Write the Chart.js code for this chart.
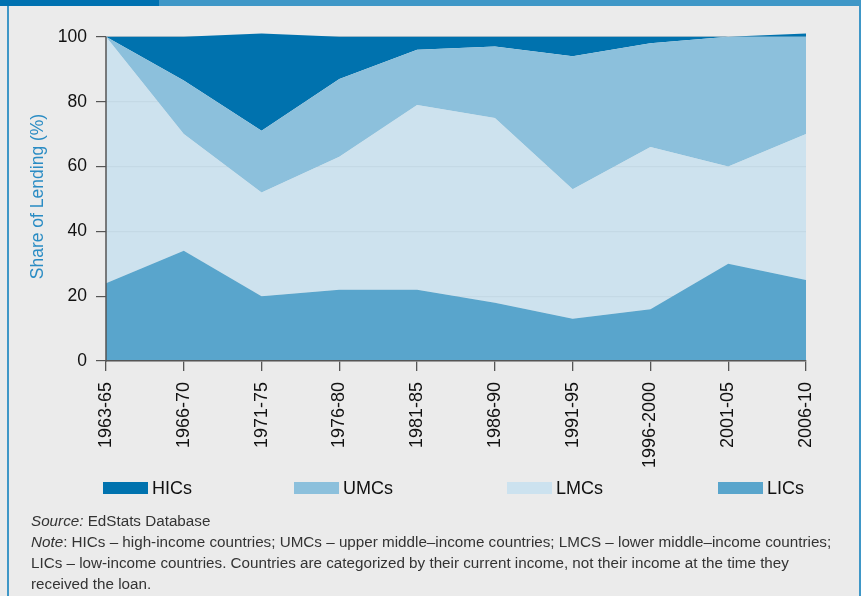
<!DOCTYPE html>
<html><head><meta charset="utf-8">
<script src="https://cdn.jsdelivr.net/npm/chart.js@4.4.1/dist/chart.umd.min.js"></script>
<style>
html,body{margin:0;padding:0;background:#ebebeb;}
body{width:861px;height:596px;position:relative;overflow:hidden;font-family:"Liberation Sans",Arial,Helvetica,sans-serif;}
#topbar{position:absolute;left:0;top:0;width:861px;height:6px;background:#3f97c7;}
#topbar .dark{position:absolute;left:0;top:0;width:159px;height:6px;background:#0071b0;}
#lb{position:absolute;left:7px;top:6px;width:2px;height:590px;background:#3f97c7;}
#rb{position:absolute;left:859px;top:6px;width:2px;height:590px;background:#3f97c7;}
#c{position:absolute;left:0;top:0;}
#legend{position:absolute;left:0;top:478px;width:861px;height:20px;font-size:18px;color:#111;}
.item{position:absolute;top:0;height:20px;display:flex;align-items:center;}
.sw{width:45px;height:12px;margin-right:4px;}
#note{position:absolute;left:31px;top:510px;font-size:14px;line-height:21px;color:#333;white-space:nowrap;}
</style></head>
<body>
<div id="topbar"><div class="dark"></div></div>
<div id="lb"></div><div id="rb"></div>
<canvas id="c" width="861" height="596"></canvas>
<div id="legend"></div>
<div id="note">
<div><i>Source:</i> EdStats Database</div>
<div><span id="l2"><i>Note</i>: HICs – high-income countries; UMCs – upper middle–income countries; LMCS – lower middle–income countries;</span></div>
<div>LICs – low-income countries. Countries are categorized by their current income, not their income at the time they</div>
<div>received the loan.</div>
</div>
<script>
// ---- data ----
const periods = ['1963-65','1966-70','1971-75','1976-80','1981-85','1986-90','1991-95','1996-2000','2001-05','2006-10'];
const licValues = [24, 34, 20, 22, 22, 18, 13, 16, 30, 25];
const lmcValues = [76, 36, 32, 41, 57, 57, 40, 50, 30, 45];
const umcValues = [0, 16.5, 19, 24, 17, 22, 41, 32, 40, 30];
const hicValues = [0, 13.5, 30, 13, 4, 3, 6, 2, 0, 1];
const yTickValues = [0, 20, 40, 60, 80, 100];
const seriesNames = ['HICs', 'UMCs', 'LMCs', 'LICs'];

// ---- styles ----
const colors = {
  HICs: '#0072ae',
  UMCs: '#8cc0dc',
  LMCs: 'rgba(192,222,239,0.7)',
  LMCsLegend: '#cce2ef',
  LICs: '#59a5cc'
};
const legendX = {HICs: 103, UMCs: 294, LMCs: 507, LICs: 718};

const datasets = [
  {label:'LICs', data: licValues, fill:'origin', backgroundColor: colors.LICs},
  {label:'LMCs', data: lmcValues, fill:'-1', backgroundColor: colors.LMCs},
  {label:'UMCs', data: umcValues, fill:'-1', backgroundColor: colors.UMCs},
  {label:'HICs', data: hicValues, fill:'-1', backgroundColor: colors.HICs}
].map(d => Object.assign(d, {borderWidth:0, pointRadius:0, pointHoverRadius:0, tension:0}));

const yAxisLine = {
  id:'yAxisLine',
  afterDatasetsDraw(chart){
    const ys = chart.scales.y, ctx = chart.ctx, x = chart.chartArea.left;
    ctx.save();
    ctx.strokeStyle = '#555'; ctx.lineWidth = 1.5;
    ctx.beginPath();
    ctx.moveTo(x, ys.getPixelForValue(0) + 0.75);
    ctx.lineTo(x, ys.getPixelForValue(100));
    ctx.stroke();
    ctx.restore();
  }
};

new Chart(document.getElementById('c'), {
  type: 'line',
  data: {labels: periods, datasets},
  plugins: [yAxisLine],
  options: {
    responsive: false,
    animation: false,
    devicePixelRatio: 1,
    layout: {padding: {top: 32, right: 55, bottom: 110, left: 0}},
    plugins: {legend: {display: false}, tooltip: {enabled: false}},
    scales: {
      x: {
        type: 'category',
        offset: false,
        afterFit: s => { s.height = 125; },
        grid: {drawOnChartArea: false, tickLength: 10, color: '#555', tickColor: '#555', lineWidth: 1.3},
        border: {display: true, color: '#555', width: 1.5, z: 1},
        ticks: {autoSkip: false, maxRotation: 90, minRotation: 90, padding: 11, color: '#111',
                font: {family: '"Liberation Sans", Arial, sans-serif', size: 18}}
      },
      y: {
        stacked: true,
        min: 0, max: 101.5,
        afterFit: s => { s.width = 106; },
        afterBuildTicks: s => { s.ticks = yTickValues.map(v => ({value: v})); },
        grid: {color: '#cdcdcd', tickColor: '#555', tickLength: 10, lineWidth: 1.2},
        border: {display: false},
        ticks: {padding: 9, color: '#111', font: {family: '"Liberation Sans", Arial, sans-serif', size: 17.5}},
        title: {display: true, text: 'Share of Lending (%)', color: '#2a8cc4',
                font: {family: '"Liberation Sans", Arial, sans-serif', size: 17.5},
                padding: {top: 28, bottom: 0}}
      }
    }
  }
});

// legend (HTML)
const leg = document.getElementById('legend');
seriesNames.forEach(n => {
  const it = document.createElement('div'); it.className = 'item';
  it.style.left = legendX[n] + 'px';
  const sw = document.createElement('div'); sw.className = 'sw';
  sw.style.background = n === 'LMCs' ? colors.LMCsLegend : colors[n];
  const tx = document.createElement('span'); tx.textContent = n;
  it.appendChild(sw); it.appendChild(tx); leg.appendChild(it);
});

// fit note font so its longest line spans the same width as the reference
const l2 = document.getElementById('l2');
const w = l2.getBoundingClientRect().width;
const note = document.getElementById('note');
note.style.fontSize = (14 * 801 / w).toFixed(2) + 'px';
</script>
</body></html>
